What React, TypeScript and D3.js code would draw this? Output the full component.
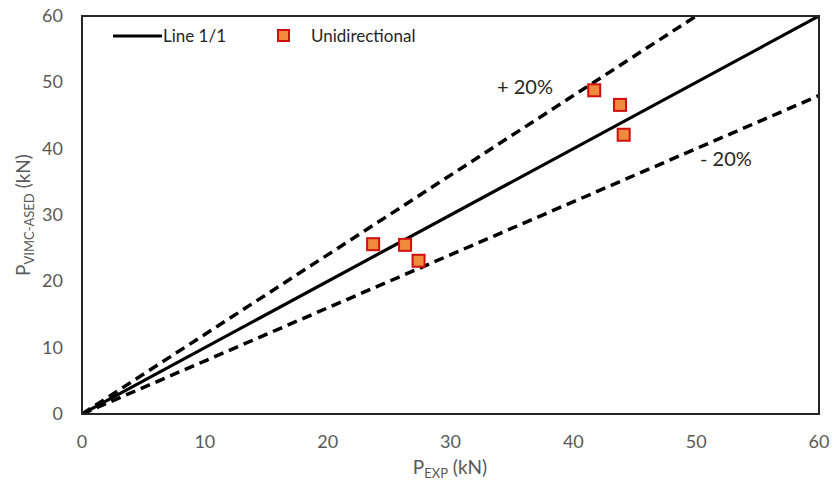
import React from "react";
import * as d3 from "d3";

const xTicks = [0, 10, 20, 30, 40, 50, 60];
const yTicks = [0, 10, 20, 30, 40, 50, 60];
const pExp = [41.7, 43.8, 44.1, 23.7, 26.3, 27.4];
const pVimc = [48.8, 46.6, 42.1, 25.6, 25.5, 23.1];
const lineFactors = [1, 1.2, 0.8];
const lineDashed = [false, true, true];

export default function App() {
  const W = 833, H = 482;
  const m = { left: 82, right: 14, top: 16, bottom: 68 };
  const x = d3.scaleLinear().domain([0, 60]).range([m.left, W - m.right]);
  const y = d3.scaleLinear().domain([0, 60]).range([H - m.bottom, m.top]);
  const font = "Lato, 'Open Sans', sans-serif";
  const lineGen = d3.line<[number, number]>().x(d => x(d[0])).y(d => y(d[1]));
  return (
    <svg width={W} height={H} style={{ position: "absolute", left: 0, top: 0 }}>
      <rect width={W} height={H} fill="#fff" />
      <defs>
        <clipPath id="plot">
          <rect x={x(0)} y={y(60)} width={x(60) - x(0)} height={y(0) - y(60)} />
        </clipPath>
      </defs>
      <g clipPath="url(#plot)">
        {lineFactors.map((f, i) => {
          const xe = Math.min(60, 60 / f);
          return (
            <path key={i} d={lineGen([[0, 0], [xe, xe * f]]) || ""} fill="none" stroke="#000"
              strokeWidth={lineDashed[i] ? 3.5 : 3.2}
              strokeDasharray={lineDashed[i] ? "10 6" : undefined} />
          );
        })}
      </g>
      <rect x={x(0)} y={y(60)} width={x(60) - x(0)} height={y(0) - y(60)} fill="none" stroke="#262626" strokeWidth={2} />
      {pExp.map((v, i) => (
        <rect key={i} x={x(v) - 6} y={y(pVimc[i]) - 6} width={12} height={12} fill="#F08A3C" stroke="#D01010" strokeWidth={2} />
      ))}
      {xTicks.map(t => (
        <text key={t} x={x(t)} y={448} textAnchor="middle" fontSize={18} fill="#595959" fontFamily={font}>{t}</text>
      ))}
      {yTicks.map(t => (
        <text key={t} x={63} y={y(t) + 6} textAnchor="end" fontSize={18} fill="#595959" fontFamily={font}>{t}</text>
      ))}
      <text x={450} y={474} textAnchor="middle" fontSize={19} fill="#595959" fontFamily={font}>
        P<tspan fontSize={13} dy={4}>EXP</tspan><tspan dy={-4}> (kN)</tspan>
      </text>
      <text transform={`translate(30,${y(30)}) rotate(-90)`} textAnchor="middle" fontSize={19} fill="#595959" fontFamily={font}>
        P<tspan fontSize={13} dy={4}>VIMC-ASED</tspan><tspan dy={-4}> (kN)</tspan>
      </text>
      <text x={497} y={94} fontSize={20} fill="#262626" fontFamily={font}>+ 20%</text>
      <text x={700} y={166} fontSize={20} fill="#262626" fontFamily={font}>- 20%</text>
      <line x1={113} x2={162} y1={36} y2={36} stroke="#000" strokeWidth={3.2} />
      <text x={163} y={42} fontSize={17} fill="#262626" fontFamily={font}>Line 1/1</text>
      <rect x={278} y={30} width={11} height={11} fill="#F08A3C" stroke="#D01010" strokeWidth={2} />
      <text x={311} y={42} fontSize={17} fill="#262626" fontFamily={font}>Unidirectional</text>
    </svg>
  );
}
